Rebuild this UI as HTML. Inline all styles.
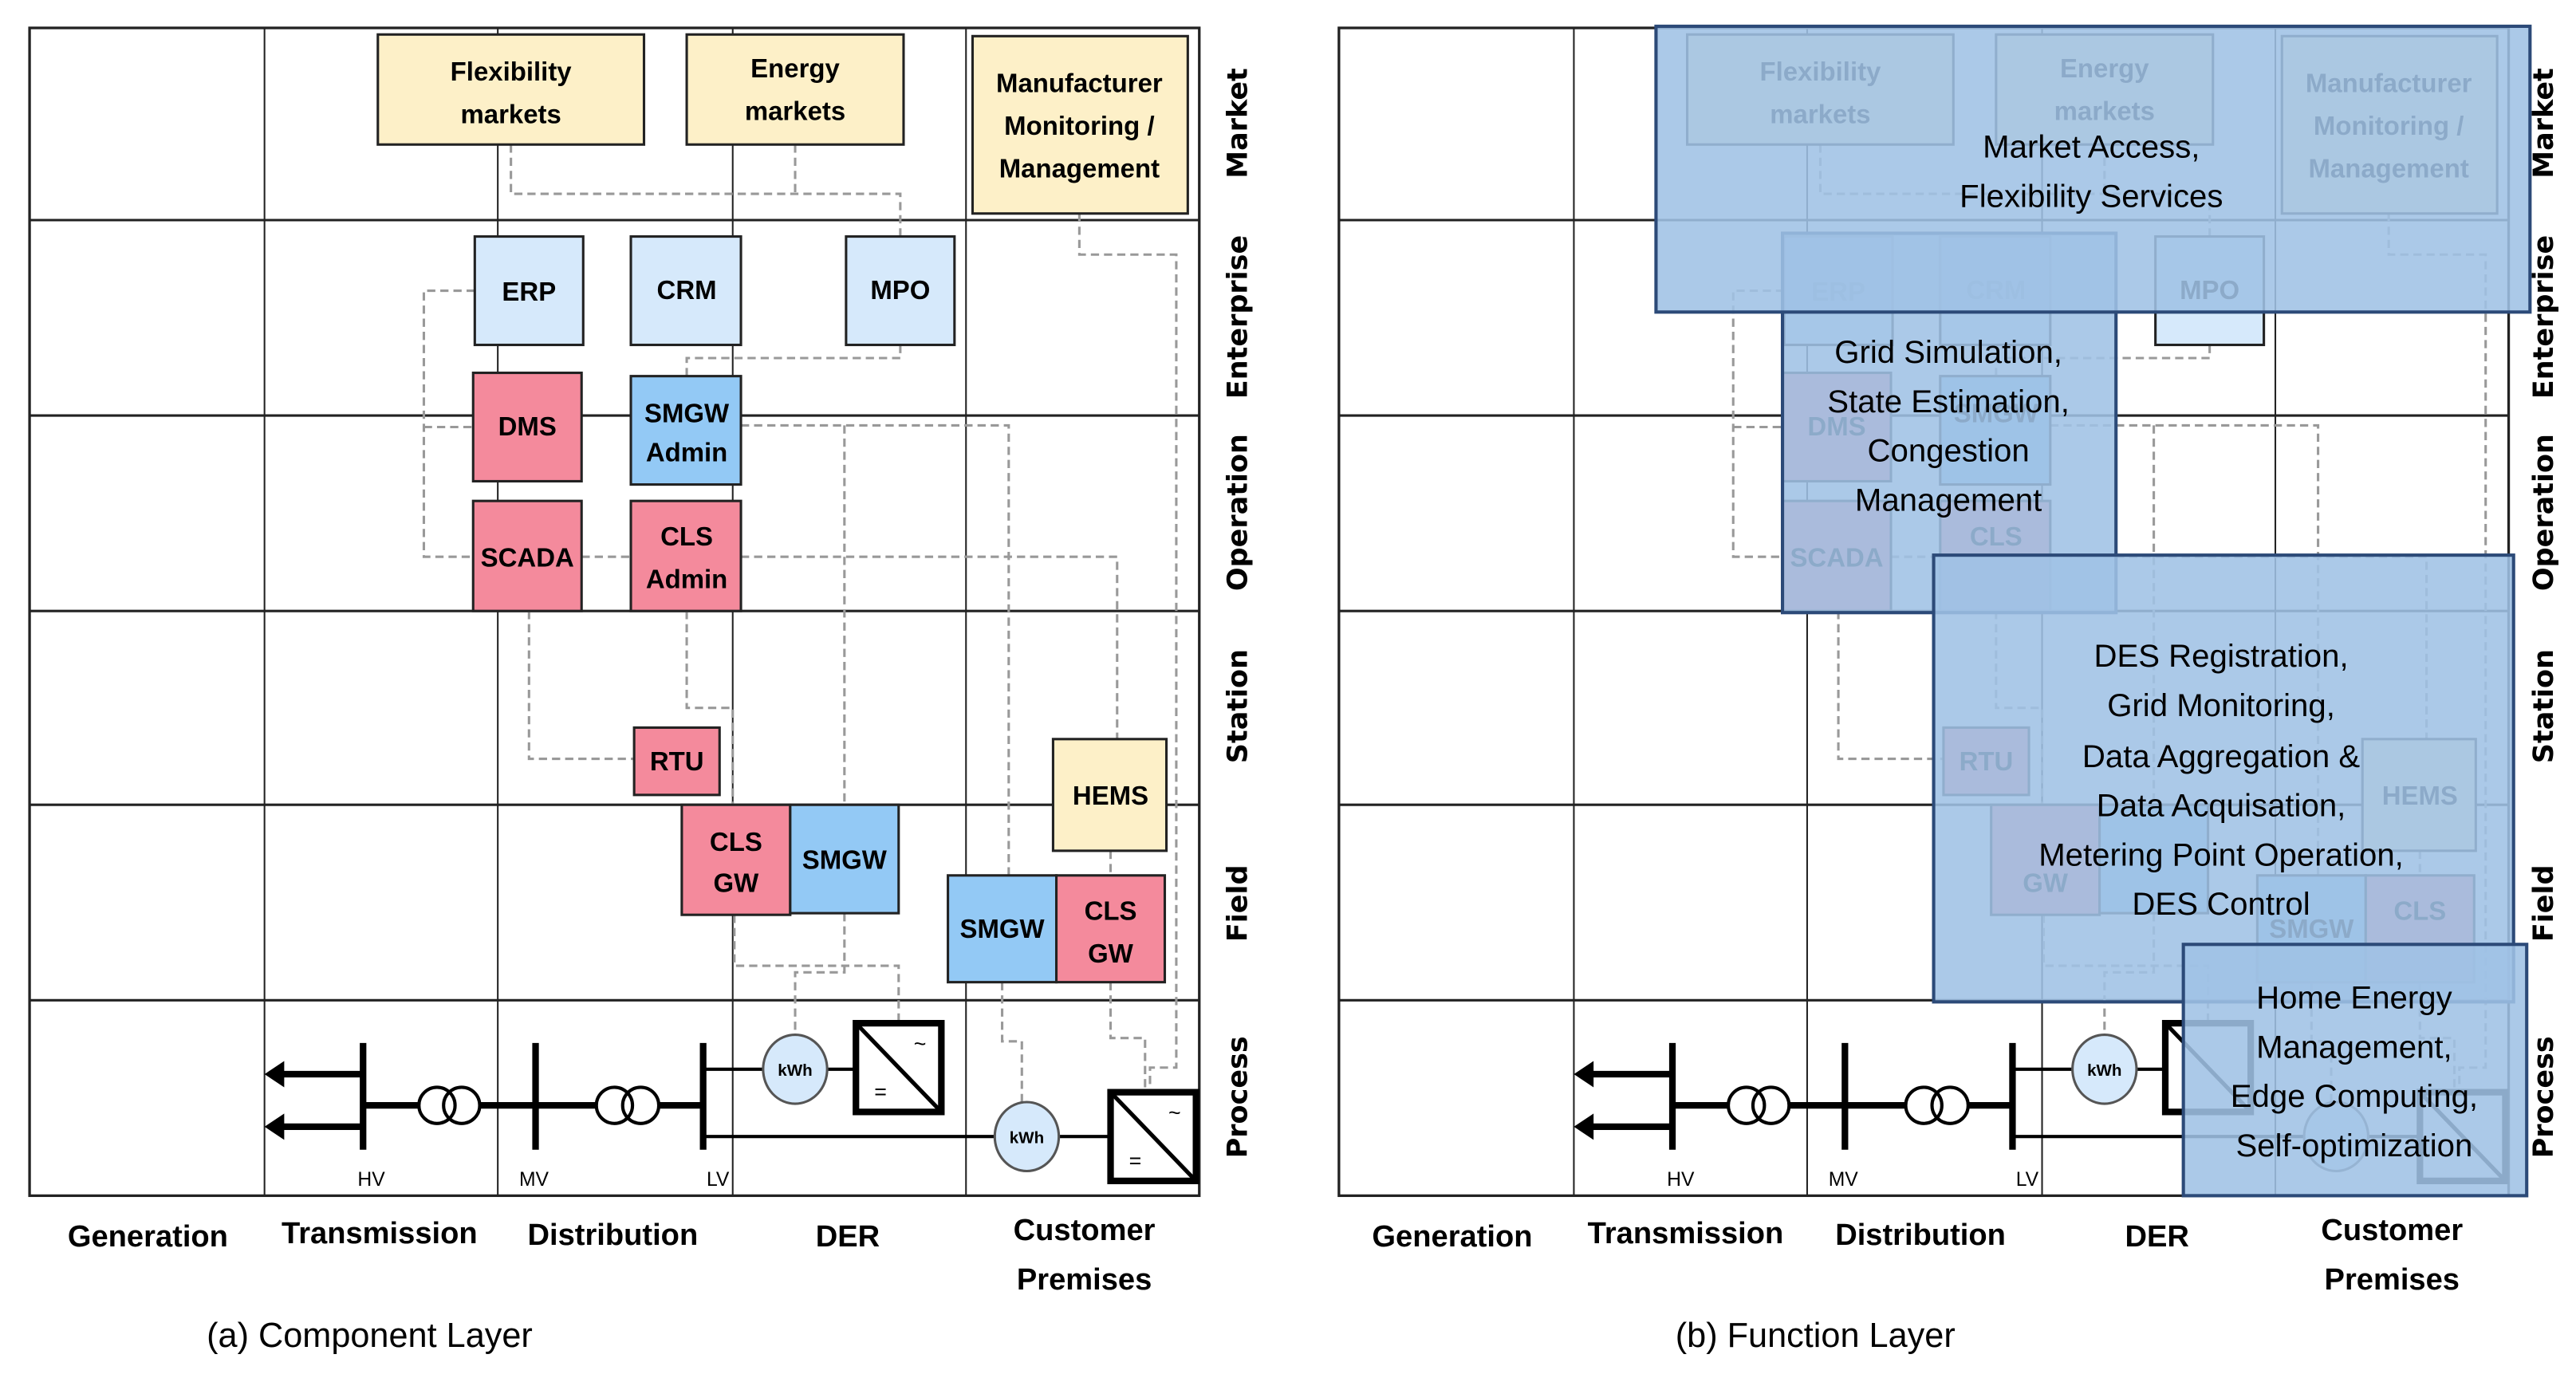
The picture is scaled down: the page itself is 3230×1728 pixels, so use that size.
<!DOCTYPE html>
<html><head><meta charset="utf-8"><style>
html,body{margin:0;padding:0;background:#fff;}
svg{display:block;}
text{font-family:"Liberation Sans",sans-serif;}
.b{font-weight:bold;font-size:16px;text-anchor:middle;fill:#000;}
.ax{font-weight:bold;font-size:18.5px;text-anchor:middle;}
.rl{font-family:"DejaVu Sans","Liberation Sans",sans-serif;font-weight:bold;font-size:17px;text-anchor:middle;}
.ov{font-size:19.5px;text-anchor:middle;fill:#000;}
.sm{font-size:12px;text-anchor:middle;}
</style></head><body>
<svg width="3230" height="1728" viewBox="0 0 1568 839" preserveAspectRatio="none" xmlns="http://www.w3.org/2000/svg">
<defs>
<g id="base">
 <rect x="18" y="17" width="712" height="711" fill="#fff" stroke="#222" stroke-width="1.6"/>
 <g stroke="#222" stroke-width="1.5">
  <line x1="18" y1="134" x2="730" y2="134"/><line x1="18" y1="253" x2="730" y2="253"/>
  <line x1="18" y1="372" x2="730" y2="372"/><line x1="18" y1="490" x2="730" y2="490"/>
  <line x1="18" y1="609" x2="730" y2="609"/>
 </g>
 <g stroke="#222" stroke-width="1">
  <line x1="161" y1="17" x2="161" y2="728"/><line x1="303" y1="17" x2="303" y2="728"/>
  <line x1="446" y1="17" x2="446" y2="728"/><line x1="588" y1="17" x2="588" y2="728"/>
 </g>
 <g fill="none" stroke="#999" stroke-width="1.5" stroke-dasharray="5,3">
  <polyline points="311,88 311,118 548,118 548,144"/>
  <polyline points="484,88 484,118"/>
  <polyline points="657,130 657,155 716,155 716,650 700,650 700,665"/>
  <polyline points="289,177 258,177 258,339 288,339"/>
  <polyline points="258,260 288,260"/>
  <polyline points="548,210 548,218 418,218 418,229"/>
  <polyline points="451,259 614,259 614,533"/>
  <polyline points="514,259 514,490"/>
  <polyline points="354,339 384,339"/>
  <polyline points="451,339 680,339 680,450"/>
  <polyline points="322,372 322,462 386,462"/>
  <polyline points="418,372 418,431 446,431 446,490"/>
  <polyline points="447,557 447,588 547,588 547,623"/>
  <polyline points="514,556 514,592 484,592 484,630"/>
  <polyline points="610,598 610,634 622,634 622,671"/>
  <polyline points="676,518 676,533"/>
  <polyline points="676,598 676,632 697,632 697,665"/>
 </g>
 <g stroke="#000" fill="none">
  <line x1="221" y1="635" x2="221" y2="700" stroke-width="4"/>
  <line x1="326" y1="635" x2="326" y2="700" stroke-width="4"/>
  <line x1="428" y1="635" x2="428" y2="700" stroke-width="4"/>
  <line x1="221" y1="654" x2="170" y2="654" stroke-width="4"/>
  <line x1="221" y1="686" x2="170" y2="686" stroke-width="4"/>
  <line x1="221" y1="673" x2="255" y2="673" stroke-width="4"/>
  <line x1="292" y1="673" x2="363" y2="673" stroke-width="4"/>
  <line x1="401" y1="673" x2="428" y2="673" stroke-width="4"/>
  <circle cx="266" cy="673" r="11" stroke-width="2" fill="#fff"/>
  <circle cx="281" cy="673" r="11" stroke-width="2"/>
  <circle cx="374" cy="673" r="11" stroke-width="2" fill="#fff"/>
  <circle cx="390" cy="673" r="11" stroke-width="2"/>
  <line x1="428" y1="651" x2="465" y2="651" stroke-width="2"/>
  <line x1="504" y1="651" x2="521" y2="651" stroke-width="2"/>
  <line x1="428" y1="692" x2="606" y2="692" stroke-width="2"/>
  <line x1="645" y1="692" x2="676" y2="692" stroke-width="2"/>
  <rect x="521" y="623" width="52" height="54" stroke-width="4" fill="#fff"/>
  <line x1="521" y1="623" x2="573" y2="677" stroke-width="2.5"/>
  <rect x="676" y="665" width="52" height="54" stroke-width="4" fill="#fff"/>
  <line x1="676" y1="665" x2="728" y2="719" stroke-width="2.5"/>
 </g>
 <polygon points="161,654 173,646 173,662" fill="#000"/>
 <polygon points="161,686 173,678 173,694" fill="#000"/>
 <ellipse cx="484" cy="651" rx="19.5" ry="21" fill="#d6e9fb" stroke="#555" stroke-width="1.5"/>
 <ellipse cx="625" cy="692" rx="19.5" ry="21" fill="#d6e9fb" stroke="#555" stroke-width="1.5"/>
</g>
</defs>

<!-- LEFT PANEL -->
<use href="#base"/>
<g>
 <text x="484" y="655" class="sm" style="font-size:10px;font-weight:bold">kWh</text>
 <text x="625" y="696" class="sm" style="font-size:10px;font-weight:bold">kWh</text>
 <text x="560" y="640" class="sm" style="font-size:13px">~</text>
 <text x="536" y="669" class="sm" style="font-size:13px">=</text>
 <text x="715" y="682" class="sm" style="font-size:13px">~</text>
 <text x="691" y="711" class="sm" style="font-size:13px">=</text>
 <text x="226" y="722" class="sm">HV</text><text x="325" y="722" class="sm">MV</text><text x="437" y="722" class="sm">LV</text>
</g>
<g stroke="#222" stroke-width="1.5">
 <rect x="230" y="21" width="162" height="67" fill="#fdf0c8"/>
 <rect x="418" y="21" width="132" height="67" fill="#fdf0c8"/>
 <rect x="592" y="22" width="131" height="108" fill="#fdf0c8"/>
 <rect x="289" y="144" width="66" height="66" fill="#d6e9fb"/>
 <rect x="384" y="144" width="67" height="66" fill="#d6e9fb"/>
 <rect x="515" y="144" width="66" height="66" fill="#d6e9fb"/>
 <rect x="288" y="227" width="66" height="66" fill="#f48a9c"/>
 <rect x="384" y="229" width="67" height="66" fill="#93c9f5"/>
 <rect x="288" y="305" width="66" height="67" fill="#f48a9c"/>
 <rect x="384" y="305" width="67" height="67" fill="#f48a9c"/>
 <rect x="386" y="443" width="52" height="41" fill="#f48a9c"/>
 <rect x="415" y="490" width="66" height="67" fill="#f48a9c"/>
 <rect x="481" y="490" width="66" height="66" fill="#93c9f5"/>
 <rect x="641" y="450" width="69" height="68" fill="#fdf0c8"/>
 <rect x="577" y="533" width="66" height="65" fill="#93c9f5"/>
 <rect x="643" y="533" width="66" height="65" fill="#f48a9c"/>
</g>
<g class="b">
 <text x="311" y="49" class="b">Flexibility</text><text x="311" y="75" class="b">markets</text>
 <text x="484" y="47" class="b">Energy</text><text x="484" y="73" class="b">markets</text>
 <text x="657" y="56" class="b">Manufacturer</text><text x="657" y="82" class="b">Monitoring /</text><text x="657" y="108" class="b">Management</text>
 <text x="322" y="183" class="b">ERP</text><text x="418" y="182" class="b">CRM</text><text x="548" y="182" class="b">MPO</text>
 <text x="321" y="265" class="b">DMS</text>
 <text x="418" y="257" class="b">SMGW</text><text x="418" y="281" class="b">Admin</text>
 <text x="321" y="345" class="b">SCADA</text>
 <text x="418" y="332" class="b">CLS</text><text x="418" y="358" class="b">Admin</text>
 <text x="412" y="469" class="b">RTU</text>
 <text x="448" y="518" class="b">CLS</text><text x="448" y="543" class="b">GW</text>
 <text x="514" y="529" class="b">SMGW</text>
 <text x="676" y="490" class="b">HEMS</text>
 <text x="610" y="571" class="b">SMGW</text>
 <text x="676" y="560" class="b">CLS</text><text x="676" y="586" class="b">GW</text>
</g>
<g>
 <text transform="translate(759,75) rotate(-90)" class="rl">Market</text>
 <text transform="translate(759,193) rotate(-90)" class="rl">Enterprise</text>
 <text transform="translate(759,312) rotate(-90)" class="rl">Operation</text>
 <text transform="translate(759,430) rotate(-90)" class="rl">Station</text>
 <text transform="translate(759,550) rotate(-90)" class="rl">Field</text>
 <text transform="translate(759,668) rotate(-90)" class="rl">Process</text>
 <text x="90" y="759" class="ax">Generation</text>
 <text x="231" y="757" class="ax">Transmission</text>
 <text x="373" y="758" class="ax">Distribution</text>
 <text x="516" y="759" class="ax">DER</text>
 <text x="660" y="755" class="ax">Customer</text><text x="660" y="785" class="ax">Premises</text>
 <text x="225" y="820" style="font-size:21px;text-anchor:middle">(a) Component Layer</text>
</g>

<!-- RIGHT PANEL -->
<g transform="translate(797,0)">
<use href="#base"/>
 <text x="484" y="655" class="sm" style="font-size:10px;font-weight:bold">kWh</text>
 <text x="226" y="722" class="sm">HV</text><text x="325" y="722" class="sm">MV</text><text x="437" y="722" class="sm">LV</text>
 <g stroke="#222" stroke-width="1.5">
 <rect x="230" y="21" width="162" height="67" fill="#fdf0c8"/>
 <rect x="418" y="21" width="132" height="67" fill="#fdf0c8"/>
 <rect x="592" y="22" width="131" height="108" fill="#fdf0c8"/>
 <rect x="289" y="144" width="66" height="66" fill="#d6e9fb"/>
 <rect x="384" y="144" width="67" height="66" fill="#d6e9fb"/>
 <rect x="515" y="144" width="66" height="66" fill="#d6e9fb"/>
 <rect x="288" y="227" width="66" height="66" fill="#f48a9c"/>
 <rect x="384" y="229" width="67" height="66" fill="#93c9f5"/>
 <rect x="288" y="305" width="66" height="67" fill="#f48a9c"/>
 <rect x="384" y="305" width="67" height="67" fill="#f48a9c"/>
 <rect x="386" y="443" width="52" height="41" fill="#f48a9c"/>
 <rect x="415" y="490" width="66" height="67" fill="#f48a9c"/>
 <rect x="481" y="490" width="66" height="66" fill="#93c9f5"/>
 <rect x="641" y="450" width="69" height="68" fill="#fdf0c8"/>
 <rect x="577" y="533" width="66" height="65" fill="#93c9f5"/>
 <rect x="643" y="533" width="66" height="65" fill="#f48a9c"/>
 </g>
 <g class="b">
 <text x="311" y="49" class="b">Flexibility</text><text x="311" y="75" class="b">markets</text>
 <text x="484" y="47" class="b">Energy</text><text x="484" y="73" class="b">markets</text>
 <text x="657" y="56" class="b">Manufacturer</text><text x="657" y="82" class="b">Monitoring /</text><text x="657" y="108" class="b">Management</text>
 <text x="322" y="183" class="b">ERP</text><text x="418" y="182" class="b">CRM</text><text x="548" y="182" class="b">MPO</text>
 <text x="321" y="265" class="b">DMS</text>
 <text x="418" y="257" class="b">SMGW</text>
 <text x="321" y="345" class="b">SCADA</text>
 <text x="418" y="332" class="b">CLS</text>
 <text x="412" y="469" class="b">RTU</text>
 <text x="448" y="543" class="b">GW</text>
 <text x="676" y="490" class="b">HEMS</text>
 <text x="610" y="571" class="b">SMGW</text>
 <text x="676" y="560" class="b">CLS</text>
 </g>
</g>
<!-- overlays -->
<g fill="#9fc2e5" fill-opacity="0.88" stroke="#2c4a78" stroke-width="2">
 <rect x="1085" y="142" width="203" height="231"/>
 <rect x="1008" y="16" width="532" height="174"/>
 <rect x="1177" y="338" width="353" height="272"/>
 <rect x="1329" y="575" width="209" height="153"/>
</g>
<g>
 <text x="1273" y="96" class="ov">Market Access,</text>
 <text x="1273" y="126" class="ov">Flexibility Services</text>
 <text x="1186" y="221" class="ov">Grid Simulation,</text>
 <text x="1186" y="251" class="ov">State Estimation,</text>
 <text x="1186" y="281" class="ov">Congestion</text>
 <text x="1186" y="311" class="ov">Management</text>
 <text x="1352" y="406" class="ov">DES Registration,</text>
 <text x="1352" y="436" class="ov">Grid Monitoring,</text>
 <text x="1352" y="467" class="ov">Data Aggregation &amp;</text>
 <text x="1352" y="497" class="ov">Data Acquisation,</text>
 <text x="1352" y="527" class="ov">Metering Point Operation,</text>
 <text x="1352" y="557" class="ov">DES Control</text>
 <text x="1433" y="614" class="ov">Home Energy</text>
 <text x="1433" y="644" class="ov">Management,</text>
 <text x="1433" y="674" class="ov">Edge Computing,</text>
 <text x="1433" y="704" class="ov">Self-optimization</text>
</g>
<g>
 <text transform="translate(1554,75) rotate(-90)" class="rl">Market</text>
 <text transform="translate(1554,193) rotate(-90)" class="rl">Enterprise</text>
 <text transform="translate(1554,312) rotate(-90)" class="rl">Operation</text>
 <text transform="translate(1554,430) rotate(-90)" class="rl">Station</text>
 <text transform="translate(1554,550) rotate(-90)" class="rl">Field</text>
 <text transform="translate(1554,668) rotate(-90)" class="rl">Process</text>
 <text x="884" y="759" class="ax">Generation</text>
 <text x="1026" y="757" class="ax">Transmission</text>
 <text x="1169" y="758" class="ax">Distribution</text>
 <text x="1313" y="759" class="ax">DER</text>
 <text x="1456" y="755" class="ax">Customer</text><text x="1456" y="785" class="ax">Premises</text>
 <text x="1105" y="820" style="font-size:21px;text-anchor:middle">(b) Function Layer</text>
</g>
</svg>
</body></html>
